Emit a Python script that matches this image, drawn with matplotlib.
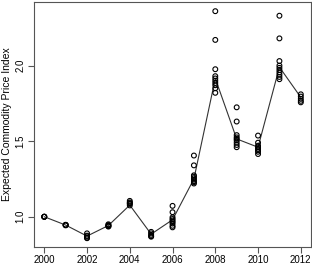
import matplotlib
matplotlib.use("Agg")
import matplotlib.pyplot as plt
import numpy as np

plt.rcParams["font.family"] = ["Liberation Sans", "DejaVu Sans"]

years = [2000, 2001, 2002, 2003, 2004, 2005, 2006, 2007, 2008, 2009, 2010, 2011, 2012]

# expected index per year (line)
expected = [1.00, 0.945, 0.872, 0.942, 1.077, 0.885, 0.98, 1.25, 1.915, 1.515, 1.46, 1.99, 1.79]

# individual scenario values per year (circles)
scenarios = [
    [1.00, 1.00, 1.00, 1.00],
    [0.945, 0.947, 0.943, 0.946],
    [0.89, 0.875, 0.862, 0.858, 0.87],
    [0.935, 0.94, 0.945, 0.95, 0.938],
    [1.105, 1.095, 1.085, 1.075, 1.09],
    [0.90, 0.89, 0.88, 0.872, 0.868],
    [1.072, 1.03, 0.996, 0.985, 0.975, 0.965, 0.955, 0.94, 0.93],
    [1.405, 1.34, 1.274, 1.265, 1.255, 1.245, 1.235, 1.228, 1.22],
    [2.36, 2.17, 1.976, 1.93, 1.915, 1.90, 1.885, 1.87, 1.85, 1.82],
    [1.724, 1.63, 1.54, 1.525, 1.515, 1.505, 1.49, 1.475, 1.46],
    [1.537, 1.49, 1.47, 1.46, 1.45, 1.44, 1.43, 1.415],
    [2.33, 2.18, 2.03, 2.0, 1.985, 1.97, 1.955, 1.94, 1.925, 1.91],
    [1.81, 1.795, 1.78, 1.767, 1.757],
]

fig = plt.figure(figsize=(3.12, 2.65), dpi=100)
ax = fig.add_axes([0.109, 0.068, 0.888, 0.924])

ax.plot(years, expected, color="#333333", lw=0.8, zorder=2)
for yr, vals in zip(years, scenarios):
    ax.scatter([yr] * len(vals), vals, s=12, facecolors="none",
               edgecolors="black", linewidths=0.8, zorder=3)

ax.set_xlim(1999.52, 2012.48)
ax.set_ylim(0.80, 2.42)
ax.set_xticks([2000, 2002, 2004, 2006, 2008, 2010, 2012])
ax.set_yticks([1.0, 1.5, 2.0])
ax.set_yticklabels(["1.0", "1.5", "2.0"], rotation=90, va="center")
ax.tick_params(labelsize=7, length=4, width=0.8, color="#555555", pad=2)
ax.set_ylabel("Expected Commodity Price Index", fontsize=7.5, labelpad=3)
for s in ax.spines.values():
    s.set_color("#555555")
    s.set_linewidth(0.8)

fig.savefig("out.png", dpi=100)
